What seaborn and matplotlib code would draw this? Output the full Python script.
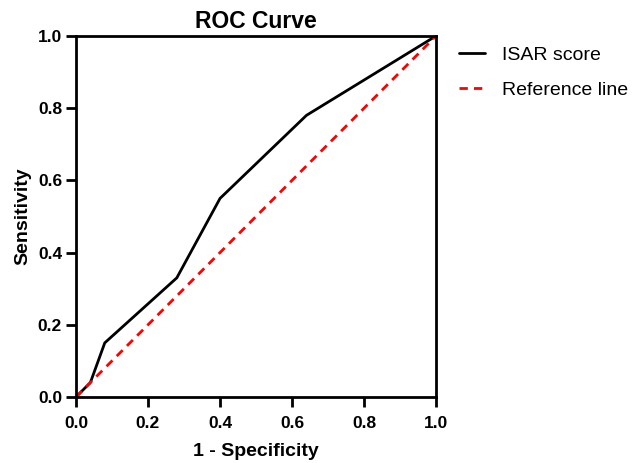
import matplotlib
matplotlib.use("Agg")
import matplotlib.pyplot as plt
import seaborn as sns
import pandas as pd

# ROC data
fpr = [0.0, 0.04, 0.08, 0.28, 0.40, 0.64, 1.0]
tpr = [0.0, 0.04, 0.15, 0.33, 0.55, 0.78, 1.0]
ref_x = [0.0, 1.0]
ref_y = [0.0, 1.0]
ticks = [0.0, 0.2, 0.4, 0.6, 0.8, 1.0]

sns.set_style("ticks")
plt.rcParams['font.family'] = ['Liberation Sans', 'DejaVu Sans']
plt.rcParams['text.color'] = 'black'
plt.rcParams['axes.labelcolor'] = 'black'
plt.rcParams['xtick.color'] = 'black'
plt.rcParams['ytick.color'] = 'black'
plt.rcParams['axes.edgecolor'] = 'black'

roc = pd.DataFrame({"fpr": fpr, "tpr": tpr})
ref = pd.DataFrame({"x": ref_x, "y": ref_y})

fig = plt.figure(figsize=(6.33, 4.63), dpi=100)
ax = fig.add_axes([0.12, 0.1425, 0.569, 0.78])

sns.lineplot(data=roc, x="fpr", y="tpr", ax=ax, color="black", lw=2,
             label="ISAR score", sort=False)
sns.lineplot(data=ref, x="x", y="y", ax=ax, color="red", lw=2,
             linestyle=(0, (3, 2.2)), label="Reference line")

ax.set_xlim(0, 1)
ax.set_ylim(0, 1)
ax.set_xticks(ticks)
ax.set_yticks(ticks)
ax.set_xticklabels([f"{t:.1f}" for t in ticks], fontsize=12.5, fontweight="bold")
ax.set_yticklabels([f"{t:.1f}" for t in ticks], fontsize=12.5, fontweight="bold")
ax.tick_params(direction="out", length=7, width=2)
ax.tick_params(axis="x", pad=7)
ax.tick_params(axis="y", pad=3)
for s in ax.spines.values():
    s.set_linewidth(2)
    s.set_visible(True)

ax.set_xlabel("1 - Specificity", fontsize=14, fontweight="bold", labelpad=8)
ax.set_ylabel("Sensitivity", fontsize=14, fontweight="bold", labelpad=5)
ax.set_title("ROC Curve", fontsize=16.5, fontweight="bold", pad=6)

ax.legend(loc="upper left", bbox_to_anchor=(1.015, 1.019), frameon=False,
          fontsize=14, handlelength=1.35, handletextpad=0.85, labelspacing=0.9)

fig.savefig("out.png", dpi=100)
